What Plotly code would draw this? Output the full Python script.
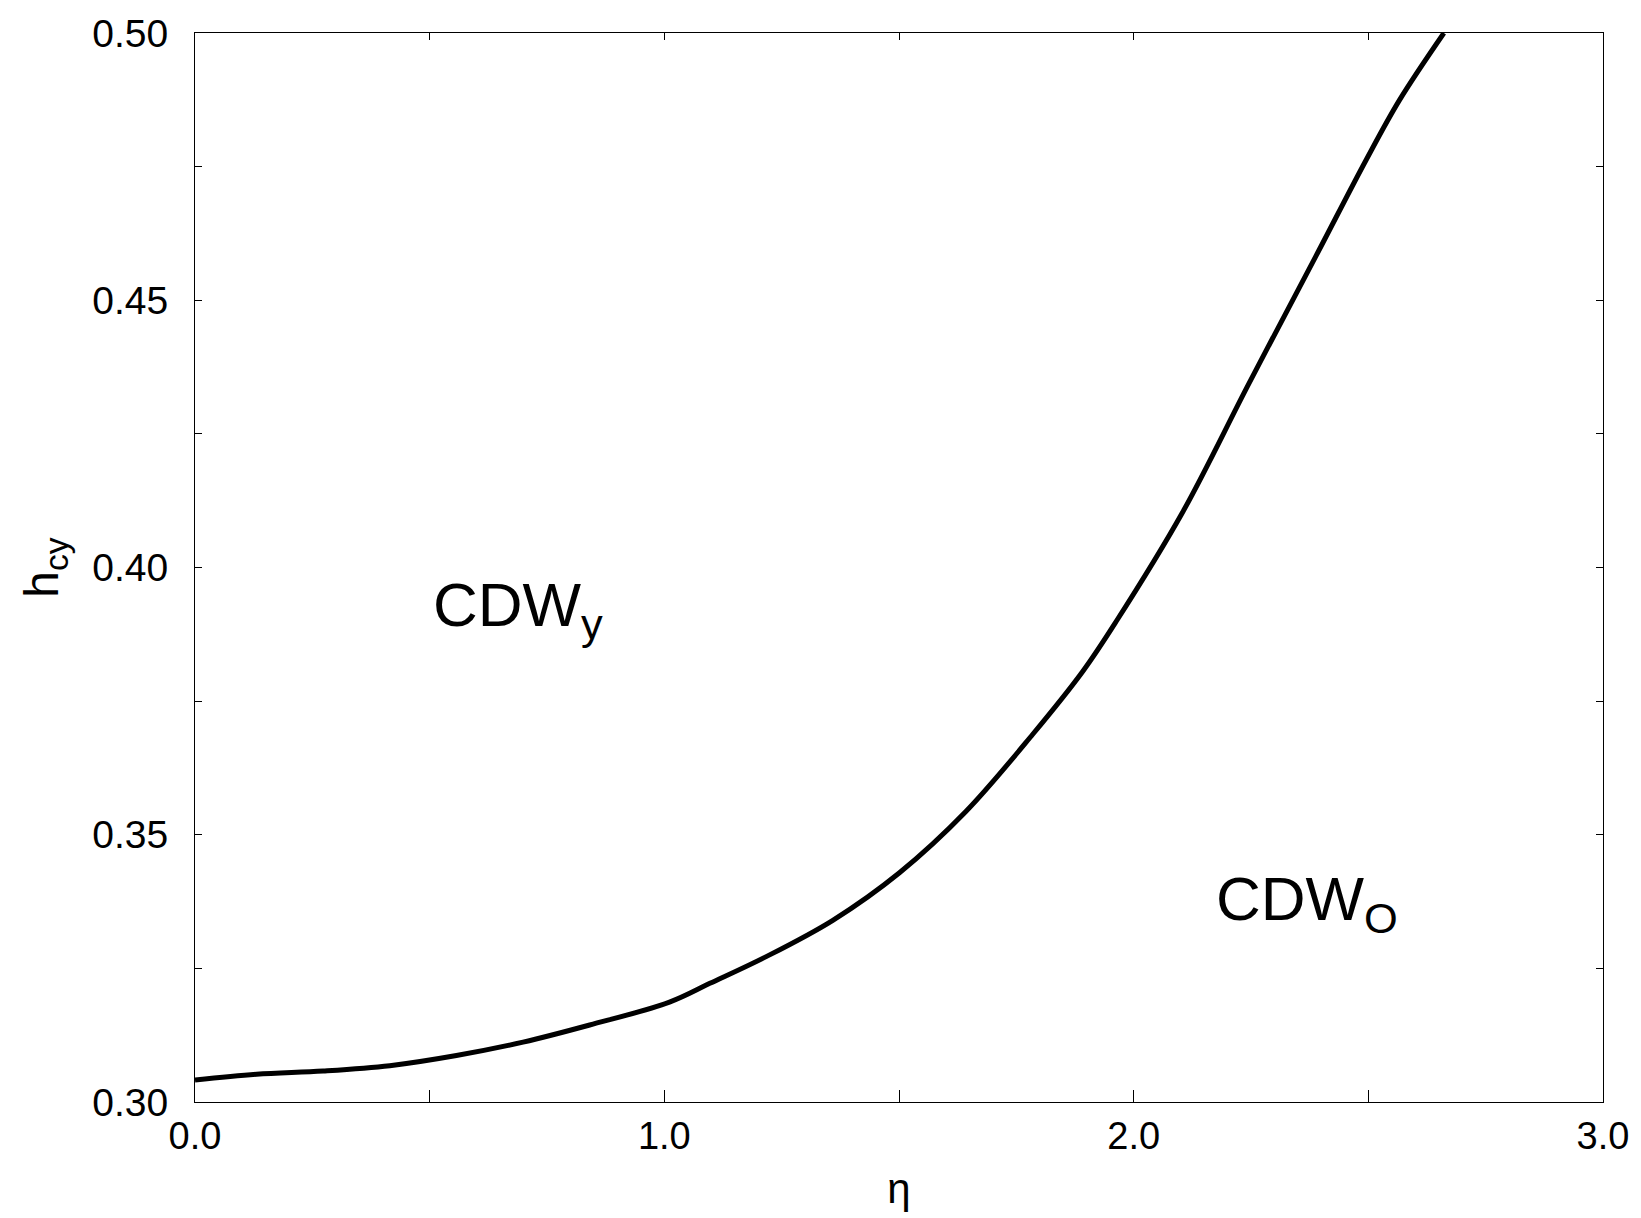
import plotly.graph_objects as go

eta = [0.0, 0.131, 0.273, 0.415, 0.557, 0.699, 0.841, 1.011, 1.097, 1.217, 1.359,
       1.501, 1.643, 1.785, 1.891, 1.962, 2.104, 2.246, 2.388, 2.495, 2.566, 2.661]
h_cy = [0.3041, 0.3052, 0.3058, 0.3068, 0.3087, 0.3112, 0.3144, 0.3187, 0.3222, 0.3272,
        0.3340, 0.3429, 0.3544, 0.3688, 0.3805, 0.3898, 0.4103, 0.4345, 0.4582, 0.4762,
        0.4874, 0.5000]

x_ticks = [0.0, 0.5, 1.0, 1.5, 2.0, 2.5, 3.0]
x_labels = ["0.0", "", "1.0", "", "2.0", "", "3.0"]
y_ticks = [0.30, 0.325, 0.35, 0.375, 0.40, 0.425, 0.45, 0.475, 0.50]
y_labels = ["0.30", "", "0.35", "", "0.40", "", "0.45", "", "0.50"]

FONT = "Liberation Sans, Arial, Helvetica, sans-serif"

fig = go.Figure()
fig.add_trace(go.Scatter(x=eta, y=h_cy, mode="lines",
                         line=dict(color="black", width=5, shape="spline", smoothing=1.0),
                         showlegend=False, hoverinfo="skip"))
# invisible trace on top axis for mirrored ticks
fig.add_trace(go.Scatter(x=[0, 3], y=[0.3, 0.3], xaxis="x2", mode="lines",
                         line=dict(width=0), showlegend=False, hoverinfo="skip"))

fig.update_layout(
    width=1641, height=1218,
    margin=dict(l=195, r=37, t=29, b=116),
    paper_bgcolor="white", plot_bgcolor="white",
    font=dict(family=FONT, color="black"),
    xaxis=dict(range=[0, 3], tickmode="array", tickvals=x_ticks, ticktext=x_labels,
               ticks="inside", ticklen=12, tickwidth=1, tickcolor="black",
               showline=True, linecolor="black", linewidth=1, mirror=True,
               showgrid=False, zeroline=False, ticklabeloverflow="allow",
               tickfont=dict(size=38, family=FONT),
               title=dict(text="η", font=dict(size=42, family=FONT), standoff=18)),
    xaxis2=dict(range=[0, 3], overlaying="x", side="top", tickmode="array",
                tickvals=x_ticks, ticktext=[""] * len(x_ticks),
                ticks="inside", ticklen=7, tickwidth=1, tickcolor="black",
                showline=False, showgrid=False, zeroline=False),
    yaxis=dict(range=[0.30, 0.50], tickmode="array", tickvals=y_ticks, ticktext=y_labels,
               ticks="inside", ticklen=7, tickwidth=1, tickcolor="black",
               showline=True, linecolor="black", linewidth=1, mirror="ticks",
               showgrid=False, zeroline=False, ticklabeloverflow="allow",
               tickfont=dict(size=39, family=FONT), ticklabelstandoff=18,
               title=dict(text="h<sub>cy</sub>", font=dict(size=48, family=FONT), standoff=18)),
    annotations=[
        dict(x=0.502, y=0.3923, xref="x", yref="y", text="CDW<sub>y</sub>",
             showarrow=False, xanchor="left", yanchor="middle",
             font=dict(size=62, family=FONT, color="black")),
        dict(x=2.172, y=0.3372, xref="x", yref="y", text="CDW<sub>O</sub>",
             showarrow=False, xanchor="left", yanchor="middle",
             font=dict(size=62, family=FONT, color="black")),
    ],
)

fig.write_html("out.html", config={"displayModeBar": False},
               post_script="document.body.style.margin='0px';")
